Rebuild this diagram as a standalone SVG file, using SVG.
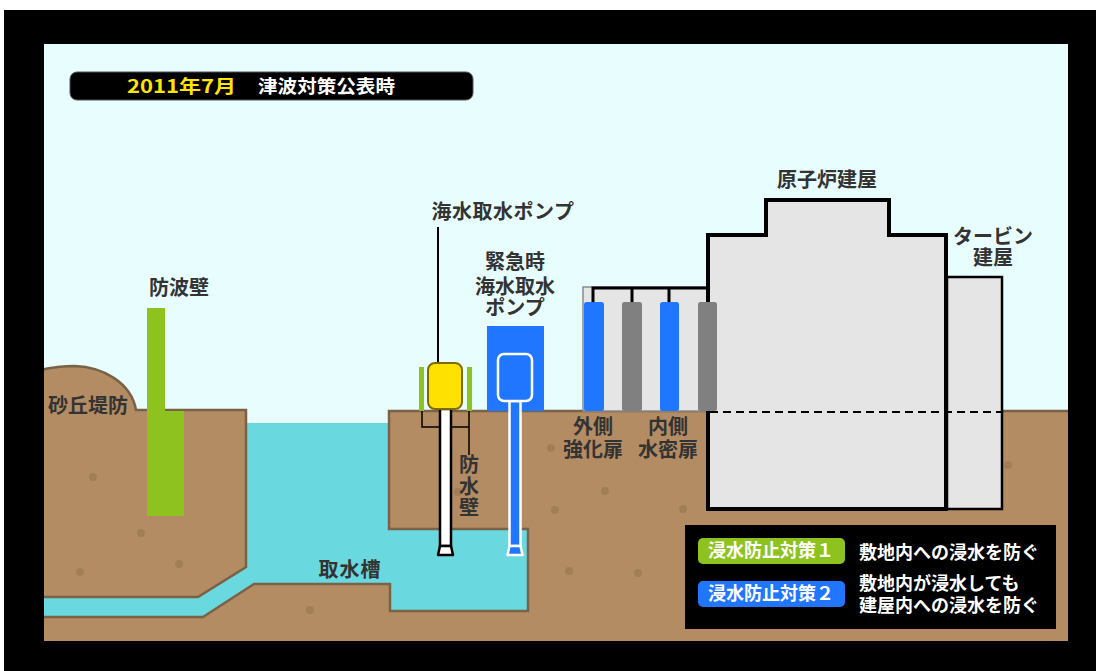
<svg xmlns="http://www.w3.org/2000/svg" width="1096" height="671" viewBox="0 0 1096 671">
  <style>
    .lbl { font-family: "Noto Sans CJK JP", "Noto Sans", sans-serif; font-weight: 700; font-size: 20px; fill: #333333; text-anchor: middle; }
    .leg { font-family: "Noto Sans CJK JP", "Noto Sans", sans-serif; font-weight: 700; font-size: 18px; fill: #ffffff; }
    .ttl { font-family: "Noto Sans CJK JP", "Noto Sans", sans-serif; font-weight: 700; font-size: 18px; }
    .ground { fill: #b38c63; stroke: #7a6246; stroke-width: 2.5; stroke-linejoin: miter; }
    .dot { fill: #a27e57; }
    .bldg { fill: #e5e5e5; stroke: #000000; }
    .door-out { fill: #2176ff; }
    .door-in { fill: #808080; }
    .link { fill: none; stroke: #000000; }
  </style>

  <!-- page background and sky -->
  <rect x="0" y="0" width="1096" height="671" fill="#ffffff"/>
  <rect x="44" y="44" width="1024" height="597" fill="#e8fdfe"/>

  <!-- sea water and intake channel -->
  <rect x="44" y="423" width="490" height="205" fill="#6ad8df"/>

  <!-- seaward ground with sand dune levee -->
  <g id="dune-ground">
    <path class="ground" d="M40,370 Q58,366 75,366 C102,367 131,382 136,410 L246,410 L246,567 L198,597 L40,597 Z"/>
  </g>

  <!-- landward ground with intake pit -->
  <g id="site-ground">
    <path class="ground" d="M40,617 L203,617 L254,584 L390,584 L390,611 L528,611 L528,529 L389,529 L389,411 L1072,411 L1072,645 L40,645 Z"/>
  </g>

  <!-- soil speckles -->
  <g id="soil-dots">
    <circle class="dot" cx="93" cy="477" r="4"/>
    <circle class="dot" cx="141" cy="533" r="4"/>
    <circle class="dot" cx="179" cy="564" r="4"/>
    <circle class="dot" cx="80" cy="572" r="4"/>
    <circle class="dot" cx="310" cy="610" r="4"/>
    <circle class="dot" cx="458" cy="492" r="4"/>
    <circle class="dot" cx="551" cy="448" r="4"/>
    <circle class="dot" cx="605" cy="491" r="4"/>
    <circle class="dot" cx="555" cy="510" r="4"/>
    <circle class="dot" cx="683" cy="509" r="4"/>
    <circle class="dot" cx="569" cy="571" r="4"/>
    <circle class="dot" cx="638" cy="573" r="4"/>
    <circle class="dot" cx="1008" cy="465" r="4"/>
  </g>

  <!-- seawall -->
  <g id="seawall">
    <path d="M147,308 H165 V411 H184 V516 H147 Z" fill="#8dc21f"/>
    <text class="lbl" x="179" y="295">防波壁</text>
  </g>
  <g id="dune-label">
    <text class="lbl" x="88" y="413">砂丘堤防</text>
  </g>

  <!-- door annex -->
  <g id="door-annex">
    <rect x="583" y="287" width="125" height="124" fill="#e5e5e5" stroke="#8a8a8a" stroke-width="1.5"/>
  </g>

  <!-- turbine building -->
  <g id="turbine-building">
    <rect class="bldg" x="947" y="277" width="55" height="232" stroke-width="2.5"/>
    <text class="lbl" x="993" y="244">タービン<tspan x="993" dy="21">建屋</tspan></text>
  </g>

  <!-- reactor building -->
  <g id="reactor-building">
    <path class="bldg" d="M708,509 V235 H766 V200 H889 V235 H946 V509 Z" stroke-width="4" stroke-linejoin="miter"/>
    <text class="lbl" x="827" y="187">原子炉建屋</text>
  </g>

  <!-- ground level line through buildings -->
  <path d="M710,412 H1001" stroke="#000000" stroke-width="2" stroke-dasharray="8 5" fill="none"/>

  <!-- connectors -->
  <g id="connectors">
    <path class="link" d="M593,302 V288 H707 M632,288 V302 M669,288 V302" stroke-width="3"/>
    <path class="link" d="M438,227 V372" stroke-width="2"/>
    <path class="link" d="M422,411 V427 H469 M469,411 V455" stroke-width="1.5"/>
  </g>

  <!-- doors -->
  <g id="outer-doors">
    <rect class="door-out" x="584" y="302" width="20" height="109" rx="2.5"/>
    <rect class="door-out" x="660" y="302" width="19" height="109" rx="2.5"/>
    <text class="lbl" x="593" y="434">外側<tspan x="593" dy="23">強化扉</tspan></text>
  </g>
  <g id="inner-doors">
    <rect class="door-in" x="622" y="302" width="20" height="109" rx="2.5"/>
    <rect class="door-in" x="698" y="302" width="19" height="109" rx="2.5"/>
    <text class="lbl" x="668" y="434">内側<tspan x="668" dy="23">水密扉</tspan></text>
  </g>

  <!-- seawater intake pump -->
  <g id="intake-pump">
    <rect x="440" y="409" width="11" height="137" fill="#ffffff" stroke="#000000" stroke-width="2.5"/>
    <path d="M440,546 H451 L453,555 H438 Z" fill="#ffffff" stroke="#000000" stroke-width="2.5" stroke-linejoin="round"/>
    <rect x="428" y="363" width="34" height="46" rx="7" fill="#ffe100" stroke="#7d6b00" stroke-width="2"/>
    <text class="lbl" x="503" y="219" letter-spacing="0.5">海水取水ポンプ</text>
  </g>

  <!-- pump waterproof walls -->
  <g id="pump-walls">
    <rect x="419" y="367" width="5" height="44" fill="#8dc21f"/>
    <rect x="467" y="367" width="5" height="44" fill="#8dc21f"/>
    <text class="lbl" x="469" y="472">防<tspan x="469" dy="22">水</tspan><tspan x="469" dy="21">壁</tspan></text>
  </g>

  <!-- emergency seawater pump -->
  <g id="emergency-pump">
    <rect x="487" y="326" width="57" height="85" fill="#2176ff"/>
    <rect x="509.5" y="401" width="11" height="145" fill="#2176ff" stroke="#ffffff" stroke-width="2.5"/>
    <path d="M509.5,546 H520.5 L522.5,555 H507.5 Z" fill="#2176ff" stroke="#ffffff" stroke-width="2.5" stroke-linejoin="round"/>
    <rect x="498" y="354" width="34" height="47" rx="6" fill="#2176ff" stroke="#ffffff" stroke-width="2.5"/>
    <text class="lbl" x="515" y="269">緊急時<tspan x="515" dy="25">海水取水</tspan><tspan x="515" dy="21">ポンプ</tspan></text>
  </g>

  <!-- intake pit label -->
  <g id="intake-pit">
    <text class="lbl" x="350" y="577" letter-spacing="1">取水槽</text>
  </g>

  <!-- legend -->
  <g id="legend">
    <rect x="685" y="525" width="371" height="104" fill="#000000"/>
    <rect x="698" y="538" width="147" height="26" rx="5" fill="#8dc21f"/>
    <text class="leg" x="771" y="557" text-anchor="middle">浸水防止対策１</text>
    <rect x="698" y="581" width="147" height="26" rx="5" fill="#2176ff"/>
    <text class="leg" x="771" y="600" text-anchor="middle">浸水防止対策２</text>
    <text class="leg" x="859" y="559">敷地内への浸水を防ぐ</text>
    <text class="leg" x="859" y="590">敷地内が浸水しても<tspan x="859" dy="22">建屋内への浸水を防ぐ</tspan></text>
  </g>

  <!-- black frame -->
  <path d="M4,10 H1096 V671 H4 Z M44,44 V641 H1068 V44 Z" fill="#000000" fill-rule="evenodd"/>

  <!-- title bar -->
  <g id="title">
    <rect x="70" y="72" width="403" height="28" rx="7" fill="#000000" stroke="#555555" stroke-width="1"/>
    <text class="ttl" x="127" y="93" fill="#ffe600" textLength="109" lengthAdjust="spacingAndGlyphs">2011年7月</text>
    <text class="ttl" x="258" y="93" fill="#ffffff" textLength="137" lengthAdjust="spacingAndGlyphs">津波対策公表時</text>
  </g>
</svg>
